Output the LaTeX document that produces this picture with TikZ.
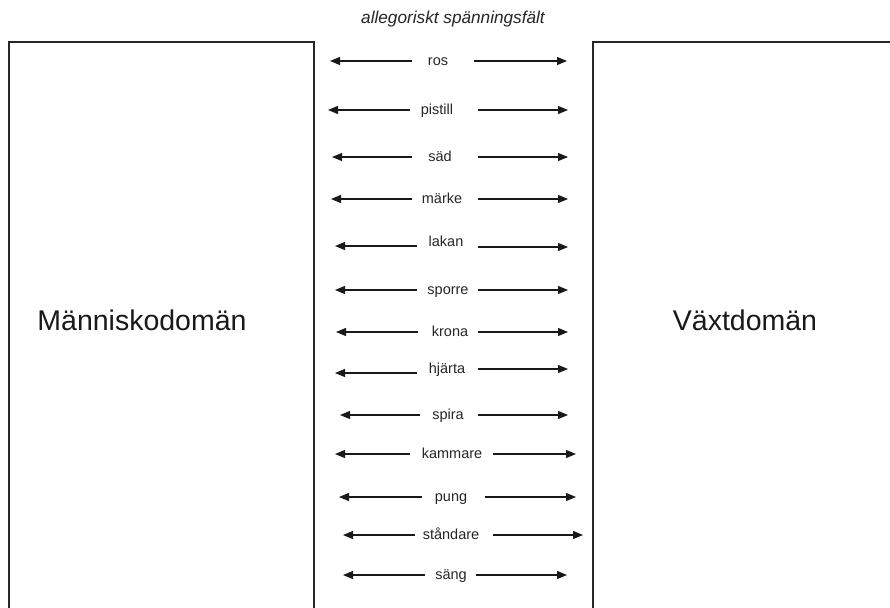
\documentclass[tikz,border=0pt]{standalone}
\usepackage{fontspec}
\setmainfont{Liberation Sans}
\usetikzlibrary{arrows.meta}
\tikzset{
  domainbox/.style={line width=1.8pt, draw=black!85},
  termlabel/.style={font=\fontsize{14.5}{16}\selectfont, anchor=mid, inner sep=0pt, text=black!85, yshift=-2pt},
  domlabel/.style={font=\fontsize{28.5}{32}\selectfont, anchor=mid, inner sep=0pt, text=black!90},
  titlelabel/.style={font=\fontsize{17.2}{19}\selectfont\itshape, anchor=mid, inner sep=0pt, text=black!85},
  fieldarrow/.style={line width=1.1pt, draw=black!90, -{Triangle[length=10pt,width=8pt]}}
}
\begin{document}
\begin{tikzpicture}[x=1pt,y=-1pt]
\useasboundingbox (0,0) rectangle (890,607);
\clip (0,0) rectangle (890,607);
\fill[white] (0,0) rectangle (890,607);
% domain boxes (open at the bottom and right)
\draw[domainbox] (9,640) -- (9,42) -- (314,42) -- (314,640);
\draw[domainbox] (593,640) -- (593,42) -- (920,42);
\node[domlabel] (human) at (142,328) {Människodomän};
\node[domlabel] (plant) at (745,328) {Växtdomän};
\node[titlelabel] (title) at (453,21) {allegoriskt spänningsfält};
% terms: name/label/x/y/left-y/left-tip/left-start/right-y/right-start/right-tip
\foreach \n/\lab/\tx/\ty/\ly/\lt/\ls/\ry/\rs/\rt in {
  a/ros/438/61/61/330/412/61/474/567,
  b/pistill/437/110/110/328/410/110/478/568,
  c/säd/440/157/157/332/412/157/478/568,
  d/märke/442/199/199/331/412/199/478/568,
  e/lakan/446/242/246/335/417/247/478/568,
  f/sporre/448/290/290/335/417/290/478/568,
  g/krona/450/332/332/336/418/332/478/568,
  h/hjärta/447/369/373/335/417/369/478/568,
  i/spira/448/415/415/340/420/415/478/568,
  j/kammare/452/454/454/335/410/454/493/576,
  k/pung/451/497/497/339/422/497/485/576,
  l/ståndare/451/535/535/343/415/535/493/583,
  m/säng/451/575/575/343/425/575/476/567}{
  \node[termlabel] (t\n) at (\tx,\ty) {\lab};
  \coordinate (ls\n) at (\ls,\ly);
  \coordinate (lt\n) at (\lt,\ly);
  \coordinate (rs\n) at (\rs,\ry);
  \coordinate (rt\n) at (\rt,\ry);
  \draw[fieldarrow] (ls\n) -- (lt\n);
  \draw[fieldarrow] (rs\n) -- (rt\n);
}
\end{tikzpicture}
\end{document}
